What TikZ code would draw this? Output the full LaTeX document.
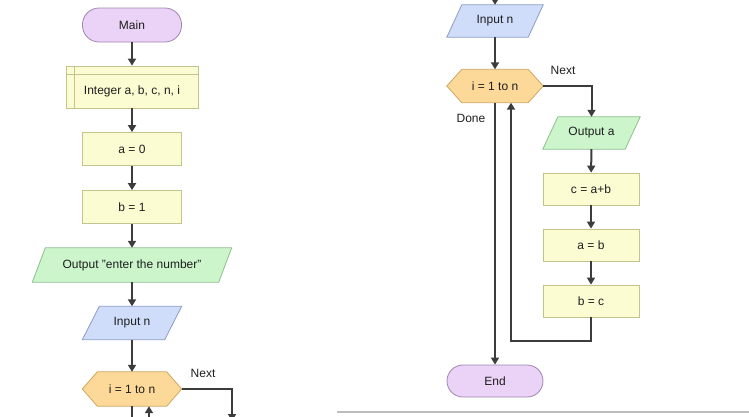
\documentclass[tikz,border=0pt]{standalone}
\usepackage{fontspec}
\setmainfont{Liberation Sans}
\usetikzlibrary{arrows.meta,backgrounds}

\definecolor{txt}{HTML}{1E1E1E}
\definecolor{lineC}{HTML}{3C3C3C}
\definecolor{termF}{HTML}{EBD2F7}
\definecolor{termB}{HTML}{9F86B2}
\definecolor{procF}{HTML}{FCFCD2}
\definecolor{procB}{HTML}{C3C38C}
\definecolor{outF}{HTML}{CCF5CC}
\definecolor{outB}{HTML}{8DBE8D}
\definecolor{inF}{HTML}{CFDDFB}
\definecolor{inB}{HTML}{8A9CC6}
\definecolor{loopF}{HTML}{FCD999}
\definecolor{loopB}{HTML}{D0A561}
\definecolor{rule}{HTML}{BDBDBD}

% parallelogram drawn behind a text node: name, style, slant
\newcommand\paraback[3]{%
  \draw[#2] ([xshift=#3pt]#1.north west) -- (#1.north east)
    -- ([xshift=-#3pt]#1.south east) -- (#1.south west) -- cycle;}
% hexagon (loop header) drawn behind a text node: name, style
\newcommand\hexback[2]{%
  \draw[#2] (#1.west) -- ([xshift=15pt]#1.north west) -- ([xshift=-15pt]#1.north east)
    -- (#1.east) -- ([xshift=-15pt]#1.south east) -- ([xshift=15pt]#1.south west) -- cycle;}

\begin{document}
\begin{tikzpicture}[x=1pt,y=-1pt,
  font=\fontsize{12}{14}\selectfont,
  base/.style={minimum height=33pt, inner sep=0pt, text=txt},
  terminal/.style={base, draw=termB, fill=termF, line width=0.8pt, rounded corners=16.5pt},
  process/.style={base, draw=procB, fill=procF, line width=0.8pt, minimum width=99pt},
  plain/.style={base},
  outsty/.style={draw=outB, fill=outF, line width=0.8pt},
  insty/.style={draw=inB, fill=inF, line width=0.8pt},
  loopsty/.style={draw=loopB, fill=loopF, line width=0.8pt},
  flow/.style={draw=lineC, line width=2pt, -{Triangle[length=7pt,width=8pt]}},
  wire/.style={draw=lineC, line width=2pt},
  lbl/.style={text=txt, inner sep=0pt}]
\useasboundingbox (0,0) rectangle (749,416);
\clip (0,0) rectangle (749,416);

% ---------- left column ----------
\node[terminal, minimum width=99pt, minimum height=34pt] (main) at (132,25) {Main};
\node[process, minimum width=132pt, minimum height=42pt] (int) at (132,87)
  {\smash{\raisebox{-7.5pt}{Integer a, b, c, n, i}}};
\draw[procB, line width=0.8pt] ([xshift=9pt]int.north west) -- ([xshift=9pt]int.south west);
\draw[procB, line width=0.8pt] ([yshift=-9pt]int.north west) -- ([yshift=-9pt]int.north east);
\node[process] (a0) at (132,149) {a = 0};
\node[process] (b1) at (132,207) {b = 1};
\node[plain, minimum width=199pt, minimum height=34pt] (out) at (132,265) {Output "enter the number"};
\node[plain, minimum width=99pt, minimum height=33pt] (in1) at (132,323) {Input n};
\node[plain, minimum width=99pt, minimum height=34pt] (loop1) at (132,389) {i = 1 to n};
\node[lbl] (next1) at (203,373) {Next};

\begin{scope}[on background layer]
  \paraback{out}{outsty}{13}
  \paraback{in1}{insty}{17}
  \hexback{loop1}{loopsty}
\end{scope}

\draw[flow] (main) -- (int);
\draw[flow] (int) -- (a0);
\draw[flow] (a0) -- (b1);
\draw[flow] (b1) -- (out);
\draw[flow] (out) -- (in1);
\draw[flow] (in1) -- (loop1);
\coordinate (l1next) at (232,421);
\draw[flow] (loop1.east) -| (l1next);
\coordinate (l1back) at (149,422);
\draw[flow] (l1back) -- (l1back |- loop1.south);
\coordinate (l1done) at (132,422);
\draw[wire] (loop1.south) -- (l1done);

% ---------- right column ----------
\coordinate (topin) at (495,-6);
\node[plain, minimum width=96pt, minimum height=32pt] (in2) at (495,21) {Input n};
\node[plain, minimum width=96pt, minimum height=33pt] (loop2) at (495,86) {i = 1 to n};
\node[lbl] (next2) at (563,70) {Next};
\node[lbl] (done2) at (471,118) {Done};
\node[plain, minimum width=97pt, minimum height=32pt] (outa) at (591.5,133) {Output a};
\node[process, minimum width=96pt, minimum height=32pt] (cab) at (591,189) {c = a+b};
\node[process, minimum width=96pt, minimum height=32pt] (ab) at (591,245) {a = b};
\node[process, minimum width=96pt, minimum height=32pt] (bc) at (591,301) {b = c};
\node[terminal, minimum width=96pt, minimum height=32pt, rounded corners=16pt] (endn) at (495,381) {End};

\begin{scope}[on background layer]
  \paraback{in2}{insty}{15}
  \hexback{loop2}{loopsty}
  \paraback{outa}{outsty}{15}
\end{scope}

\draw[flow] (topin) -- (in2);
\draw[flow] (in2) -- (loop2);
\draw[flow] (loop2.east) -| (outa.north);
\draw[flow] (outa) -- (cab);
\draw[flow] (cab) -- (ab);
\draw[flow] (ab) -- (bc);
\coordinate (back) at (511,341);
\draw[flow] (bc.south) |- (back) -- (back |- loop2.south);
\draw[flow] (loop2.south) -- (endn.north);

% bottom edge rule
\draw[rule, line width=1.5pt] (337,412) -- (749,412);
\end{tikzpicture}
\end{document}
